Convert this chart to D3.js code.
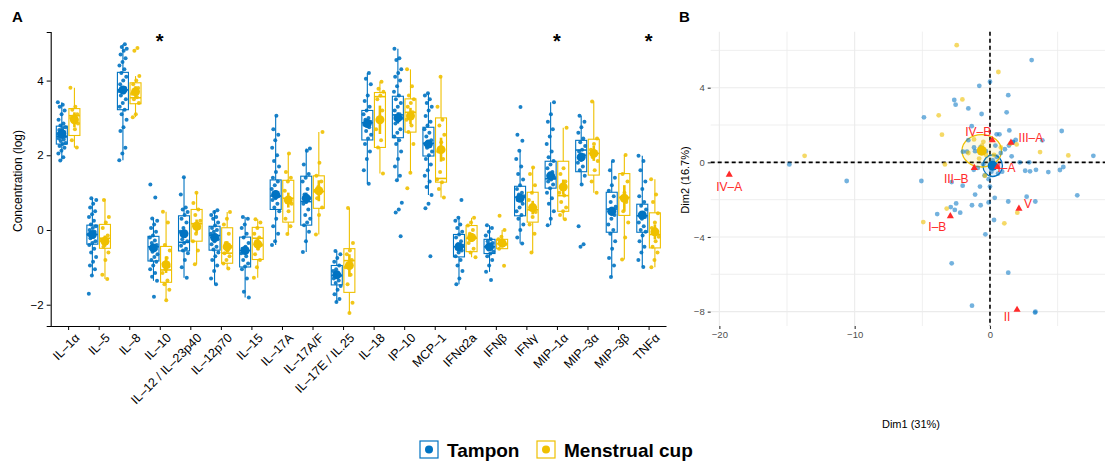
<!DOCTYPE html>
<html>
<head>
<meta charset="utf-8">
<script src="https://cdn.jsdelivr.net/npm/d3@7"></script>
<style>
  body { margin: 0; background: #fff; }
  svg { font-family: "Liberation Sans", Arial, Helvetica, sans-serif; }
</style>
</head>
<body>
<svg id="chart" width="1105" height="464"></svg>
<script>
// ---------- panel A data ----------
const cytokines = ["IL–1α","IL–5","IL–8","IL–10","IL–12 / IL–23p40","IL–12p70","IL–15","IL–17A","IL–17A/F","IL–17E / IL.25","IL–18","IP–10","MCP–1","IFNα2a","IFNβ","IFNγ","MIP–1α","MIP–3α","MIP–3β","TNFα"];
const signifCytokines = ["IL–10","MIP–1α","TNFα"];
const yTicksA = [-2, 0, 2, 4];

const tamponQ1   = [2.30,-0.38,3.22,-0.83,-0.56,-0.54,-0.99,0.55,0.13,-1.47,2.41,2.47,1.98,-0.72,-0.63,0.38,1.12,1.56,-0.06,-0.06];
const tamponMed  = [2.50,-0.12,3.75,-0.45,-0.33,-0.15,-0.55,0.91,0.76,-1.22,2.87,3.08,2.32,-0.45,-0.45,0.88,1.37,2.14,0.56,0.38];
const tamponQ3   = [2.78,0.13,4.22,-0.17,0.38,0.10,-0.19,1.34,1.44,-0.95,3.20,3.58,2.75,-0.12,-0.25,1.17,1.84,2.40,1.01,0.69];
const tamponLo   = [1.86,-1.22,1.87,-1.36,-1.28,-1.45,-1.81,-0.40,-0.59,-1.93,1.24,1.33,0.94,-1.45,-1.12,-0.36,0.13,1.22,-1.26,-0.99];
const tamponHi   = [3.42,0.85,4.97,0.31,1.41,0.53,0.35,3.06,2.18,-0.56,4.20,4.85,3.66,0.33,0.13,2.12,3.42,3.06,1.85,1.99];
const tamponMean = [2.58,-0.12,3.75,-0.48,-0.10,-0.20,-0.55,0.95,0.85,-1.20,2.85,3.00,2.30,-0.45,-0.45,0.85,1.45,1.95,0.50,0.40];
const tamponErr  = [0.08,0.08,0.10,0.08,0.10,0.08,0.10,0.10,0.15,0.07,0.10,0.15,0.10,0.07,0.05,0.10,0.10,0.12,0.12,0.08];

const cupQ1   = [2.53,-0.49,3.38,-1.40,-0.30,-0.89,-0.79,0.21,0.58,-1.67,2.21,2.62,1.28,-0.58,-0.50,0.21,0.50,1.47,0.39,-0.48];
const cupMed  = [3.06,-0.22,3.54,-1.07,0.17,-0.62,-0.22,0.85,1.03,-0.82,3.57,3.15,1.38,-0.22,-0.37,0.54,0.92,2.05,0.87,-0.12];
const cupQ3   = [3.25,0.15,3.94,-0.44,0.55,0.06,0.07,1.33,1.45,-0.50,3.68,3.51,3.00,0.12,-0.25,1.01,1.84,2.43,1.51,0.46];
const cupLo   = [2.21,-1.31,3.02,-1.88,-0.92,-1.03,-1.28,-0.11,-0.12,-2.22,1.51,1.53,0.87,-0.73,-0.50,-0.60,0.29,1.00,-0.79,-1.00];
const cupHi   = [3.81,0.83,4.12,0.49,1.00,0.48,0.29,2.05,2.62,0.59,3.97,4.30,4.10,0.33,0.00,1.67,2.74,3.44,2.01,1.36];
const cupMean = [2.95,-0.30,3.70,-0.93,0.10,-0.45,-0.38,0.80,1.05,-0.95,2.95,3.05,2.15,-0.20,-0.35,0.60,1.15,2.05,0.85,-0.05];
const cupErr  = [0.20,0.15,0.15,0.22,0.18,0.15,0.15,0.20,0.28,0.30,0.38,0.22,0.32,0.12,0.07,0.18,0.20,0.20,0.35,0.20];

const tamponPoints = [
  [3.42,3.35,3.3,3.2,3.1,2.95,2.85,2.8,2.75,2.72,2.68,2.62,2.6,2.57,2.55,2.52,2.5,2.48,2.45,2.42,2.38,2.33,2.3,2.25,2.2,2.12,2.05,1.95,1.86],
  [0.85,0.8,0.7,0.6,0.5,0.42,0.35,0.25,0.15,0.1,0.05,0,-0.05,-0.1,-0.12,-0.18,-0.22,-0.3,-0.35,-0.4,-0.5,-0.6,-0.72,-0.85,-0.95,-1.05,-1.22,-1.71],
  [4.97,4.9,4.85,4.8,4.7,4.6,4.5,4.4,4.3,4.2,4.1,4.0,3.9,3.8,3.75,3.72,3.68,3.6,3.5,3.4,3.3,3.22,3.1,2.95,2.75,2.65,2.2,2.05,1.87],
  [1.22,0.87,0.31,0.25,0.15,0.05,-0.05,-0.15,-0.2,-0.28,-0.35,-0.4,-0.45,-0.48,-0.52,-0.58,-0.65,-0.72,-0.8,-0.85,-0.95,-1.05,-1.15,-1.25,-1.36,-1.79],
  [1.41,0.95,0.6,0.55,0.48,0.4,0.3,0.2,0.05,-0.05,-0.15,-0.25,-0.3,-0.35,-0.42,-0.5,-0.55,-0.62,-0.8,-1.0,-1.28],
  [0.53,0.48,0.4,0.35,0.3,0.2,0.12,0.05,0,-0.05,-0.1,-0.15,-0.2,-0.25,-0.3,-0.38,-0.45,-0.52,-0.6,-0.7,-0.8,-0.95,-1.1,-1.3,-1.45],
  [0.35,0.3,0.15,0.05,-0.1,-0.2,-0.35,-0.45,-0.5,-0.55,-0.58,-0.62,-0.7,-0.8,-0.9,-0.98,-1.05,-1.3,-1.65,-1.81],
  [3.06,2.7,2.55,2.4,2.2,2.0,1.85,1.7,1.55,1.4,1.3,1.2,1.1,1.0,0.95,0.9,0.85,0.8,0.7,0.6,0.5,0.3,0.1,-0.1,-0.3,-0.4],
  [2.18,2.12,1.75,1.5,1.4,1.3,1.1,0.95,0.85,0.76,0.7,0.55,0.4,0.3,0.2,0.13,-0.05,-0.3,-0.59],
  [-0.56,-0.65,-0.75,-0.85,-0.95,-1.05,-1.1,-1.15,-1.2,-1.22,-1.25,-1.3,-1.35,-1.42,-1.5,-1.6,-1.72,-1.85,-1.93],
  [4.2,4.05,3.9,3.6,3.45,3.3,3.2,3.1,3.0,2.95,2.9,2.87,2.82,2.75,2.65,2.55,2.45,2.3,2.1,1.9,1.6,1.24],
  [4.85,4.6,4.55,4.3,4.2,4.1,4.0,3.85,3.7,3.6,3.5,3.4,3.3,3.2,3.1,3.05,3.0,2.95,2.85,2.7,2.6,2.5,2.4,2.3,2.1,1.9,1.7,1.45,1.33,0.73,0.55,0.47,-0.17],
  [3.66,3.6,3.5,3.4,3.3,3.2,3.05,2.9,2.8,2.7,2.6,2.5,2.4,2.35,2.3,2.25,2.2,2.1,2.0,1.9,1.75,1.6,1.45,1.3,1.15,0.94,0.7,0.58,-0.7],
  [0.8,0.33,0.25,0.15,0.05,-0.05,-0.12,-0.2,-0.3,-0.38,-0.42,-0.45,-0.5,-0.55,-0.6,-0.7,-0.8,-0.95,-1.1,-1.3,-1.45],
  [0.13,0.05,-0.05,-0.15,-0.25,-0.3,-0.35,-0.4,-0.45,-0.48,-0.52,-0.58,-0.63,-0.7,-0.8,-0.95,-1.12,-1.34],
  [3.29,2.55,2.39,2.12,1.9,1.7,1.5,1.35,1.2,1.1,1.0,0.95,0.9,0.85,0.8,0.7,0.6,0.5,0.4,0.3,0.15,0.0,-0.2,-0.36],
  [3.42,3.1,2.9,2.7,2.5,2.3,2.1,1.95,1.85,1.75,1.65,1.55,1.45,1.4,1.35,1.3,1.22,1.12,1.0,0.85,0.7,0.5,0.3,0.13],
  [3.06,2.9,2.75,2.6,2.45,2.35,2.25,2.15,2.1,2.0,1.9,1.8,1.7,1.6,1.45,1.22,0.1,-0.38,-0.45],
  [1.85,1.6,1.4,1.2,1.05,0.9,0.75,0.62,0.55,0.5,0.4,0.3,0.15,0.0,-0.1,-0.3,-0.5,-0.75,-0.95,-1.26],
  [1.99,1.85,1.6,1.3,1.1,0.9,0.75,0.65,0.55,0.45,0.4,0.35,0.3,0.2,0.1,0.0,-0.05,-0.15,-0.3,-0.45,-0.6,-0.8,-0.99]
];
const cupPoints = [
  [3.81,3.3,3.22,3.1,3.05,3.0,2.97,2.92,2.85,2.7,2.4,2.21],
  [0.8,0.35,0.2,0.05,-0.15,-0.22,-0.28,-0.35,-0.45,-0.6,-0.8,-1.2,-1.31],
  [4.87,4.8,4.12,4.0,3.9,3.8,3.72,3.65,3.55,3.5,3.4,3.1,3.02],
  [0.49,0.2,-0.4,-0.55,-0.75,-0.9,-0.98,-1.05,-1.15,-1.35,-1.45,-1.6,-1.88],
  [1.0,0.72,0.55,0.4,0.25,0.18,0.12,0.05,-0.1,-0.3,-0.55,-0.92],
  [0.48,0.3,0.15,-0.1,-0.35,-0.45,-0.55,-0.62,-0.7,-0.8,-0.9,-1.03],
  [0.29,0.2,0.05,-0.1,-0.2,-0.3,-0.4,-0.5,-0.65,-0.8,-1.0,-1.28],
  [2.05,1.55,1.4,1.3,1.05,0.85,0.8,0.7,0.5,0.3,0.1,-0.11],
  [2.62,1.8,1.45,1.3,1.15,1.05,1.0,0.85,0.6,0.4,-0.12],
  [0.59,-0.35,-0.55,-0.65,-0.8,-0.9,-1.0,-1.2,-1.45,-1.95,-2.22],
  [3.97,3.78,3.7,3.6,3.5,3.2,2.95,2.7,2.4,2.21,1.51],
  [4.3,3.85,3.6,3.5,3.4,3.3,3.15,3.05,2.95,2.8,2.62,2.3,1.53,1.12],
  [4.1,3.3,2.95,2.8,2.55,2.35,2.1,1.9,1.55,1.35,1.28,1.1,0.87],
  [0.33,0.2,0.12,0.0,-0.1,-0.2,-0.25,-0.35,-0.5,-0.6,-0.73],
  [0.38,0.0,-0.18,-0.25,-0.3,-0.35,-0.38,-0.42,-0.5,-0.96],
  [1.67,1.5,1.2,1.0,0.8,0.65,0.55,0.48,0.35,0.15,-0.1,-0.6],
  [2.74,1.65,1.5,1.3,1.15,1.0,0.92,0.75,0.6,0.5,0.4,0.29],
  [3.44,2.45,2.3,2.15,2.05,1.95,1.85,1.6,1.3,1.0],
  [2.01,1.5,1.3,1.0,0.87,0.75,0.5,0.2,-0.2,-0.79],
  [1.36,0.95,0.75,0.45,0.2,0.05,-0.05,-0.1,-0.18,-0.3,-0.45,-0.6,-0.8,-1.0]
];

// ---------- panel B data ----------
const pcaTamponX = [3.08,-0.79,0,1.35,-2.64,-2.54,-1.6,1.23,-0.62,-4.88,-1.35,1.43,5.3,0.49,3.87,-1.6,1.68,-1.18,-1.7,-2.0,1.6,7.64,2.9,-14.83,5.42,5.17,2.6,2.96,3.4,4.31,-10.59,-5.07,-2.83,-2.02,-0.74,0,6.45,-1.1,2.71,-0.1,1.35,3.35,-1.33,-0.69,-2.5,-2.9,-2.6,-2.2,-3.9,0.3,-0.34,-2.83,1.35,-1.33,3.33,3.36,
  -1.2,-0.9,-0.5,0.2,0.5,0.8,1.1,1.4,1.7,0.3,0.6,0.9,0.1,-0.3,-0.7,-1.1,0.4,0.7,-0.1,0.35,1.9,2.2,-0.4,0.15];
const pcaTamponY = [5.48,4.1,4.32,3.6,3.34,3.09,2.89,2.68,2.59,2.41,1.94,1.71,1.68,1.5,1.18,1.19,1.07,0.8,0.57,0.57,0.32,0.35,0,-0.11,-0.25,-0.41,-0.45,-0.48,-0.4,-0.52,-1.0,-1.0,-1.06,-1.25,-1.3,-1.3,-1.77,-1.73,-1.84,-2.15,-2.1,-2.1,-2.3,-2.3,-2.2,-2.4,-2.55,-2.7,-2.77,-3.09,-3.86,-5.41,-5.91,-7.68,-8.05,-8.0,
  -0.4,-0.3,-0.1,0.1,0.3,0.5,0.7,0.9,1.1,-0.3,-0.6,-0.5,-0.5,0.6,0.8,0.6,0.9,1.5,-0.9,-1.9,1.2,0.0,-0.7,-0.2];
const pcaCupX = [-2.46,0.62,-2.04,-3.79,-3.55,-1.18,-0.49,1.97,1.5,3.7,5.79,-13.7,-3.33,-0.37,-3.2,2.02,-4.93,1.06,-0.3,-0.8,0.3,-1.6,-0.6,0.8];
const pcaCupY = [6.28,4.84,3.37,2.52,1.48,1.23,1.1,0.96,1.0,0.55,0.37,0.35,-0.11,-0.72,-2.48,-2.7,-3.2,-3.27,0.4,0.2,0.4,0.5,0.9,0.8];
const groupMeanX = [0.2, -0.61];
const groupMeanY = [-0.18, 0.62];
const ellipseRx = [0.72, 1.46];
const ellipseRy = [0.58, 0.87];
const supLabels = ["IV–A","IV–B","III–A","I–A","III–B","I–B","V","II"];
const supX = [-19.27, 0.17, 1.55, 0.55, -1.16, -2.93, 2.14, 2.0];
const supY = [-0.66, 1.19, 1.05, -0.25, -0.3, -2.88, -2.48, -7.9];
const xTicksB = [-20, -10, 0];
const yTicksB = [-8, -4, 0, 4];
const xGridB = [-20, -15, -10, -5, 0, 5];
const yGridB = [-8, -6, -4, -2, 0, 2, 4, 6];

const groups = ["Tampon", "Menstrual cup"];
const colors = ["#0073C2", "#EFC000"];

const svg = d3.select("#chart");

// ================= Panel A =================
const xA = d3.scalePoint().domain(cytokines).range([50.7, 666]).padding(0.57);
const yA = d3.scaleLinear().domain([-2.57, 5.30]).range([326, 32]);
const dodge = 6.3, boxW = 11;

const gA = svg.append("g");

gA.append("g")
  .attr("transform", "translate(50.7,0)")
  .call(d3.axisLeft(yA).tickValues(yTicksA).tickSize(4).tickFormat(d => d < 0 ? "−" + Math.abs(d) : d))
  .call(g => g.select(".domain").attr("stroke", "#000").attr("stroke-width", 1.1))
  .call(g => g.selectAll(".tick line").attr("stroke", "#000"))
  .call(g => g.selectAll(".tick text").attr("font-size", 11.5).attr("fill", "#000").attr("font-family", null));

const xAxisA = gA.append("g")
  .attr("transform", "translate(0,326)")
  .call(d3.axisBottom(xA).tickSize(4).tickSizeOuter(0))
  .call(g => g.select(".domain").attr("stroke", "#000").attr("stroke-width", 1.1))
  .call(g => g.selectAll(".tick line").attr("stroke", "#000"));
xAxisA.selectAll(".tick text")
  .attr("font-size", 12.5).attr("fill", "#000").attr("font-family", null)
  .attr("text-anchor", "end")
  .attr("transform", "translate(5,6) rotate(-45)")
  .attr("dy", "0.75em").attr("y", 0).attr("x", 0);

function drawGroup(gi, q1, med, q3, lo, hi, mean, err, pts) {
  const col = colors[gi];
  const off = gi === 0 ? -dodge : dodge;
  const g = gA.append("g");
  cytokines.forEach((c, i) => {
    const cx = xA(c) + off;
    g.append("line").attr("x1", cx).attr("x2", cx).attr("y1", yA(lo[i])).attr("y2", yA(q1[i]))
      .attr("stroke", col).attr("stroke-width", 1.1);
    g.append("line").attr("x1", cx).attr("x2", cx).attr("y1", yA(q3[i])).attr("y2", yA(hi[i]))
      .attr("stroke", col).attr("stroke-width", 1.1);
    g.append("rect").attr("x", cx - boxW / 2).attr("width", boxW)
      .attr("y", yA(q3[i])).attr("height", yA(q1[i]) - yA(q3[i]))
      .attr("fill", "none").attr("stroke", col).attr("stroke-width", 1.1);
    g.append("line").attr("x1", cx - boxW / 2).attr("x2", cx + boxW / 2)
      .attr("y1", yA(med[i])).attr("y2", yA(med[i])).attr("stroke", col).attr("stroke-width", 1.6);
  });
  cytokines.forEach((c, i) => {
    const cx = xA(c) + off;
    // jitter offsets (position only)
    g.selectAll(null).data(pts[i]).enter().append("circle")
      .attr("cx", (d, j) => cx + (((j * 0.618034 + i * 0.37) % 1) - 0.5) * 8)
      .attr("cy", d => yA(d)).attr("r", 2).attr("fill", col).attr("fill-opacity", 0.9);
  });
  cytokines.forEach((c, i) => {
    const cx = xA(c) + off;
    g.append("line").attr("x1", cx).attr("x2", cx)
      .attr("y1", yA(mean[i] - err[i])).attr("y2", yA(mean[i] + err[i]))
      .attr("stroke", col).attr("stroke-width", 2.6);
    g.append("circle").attr("cx", cx).attr("cy", yA(mean[i])).attr("r", 4.5).attr("fill", col);
  });
}
drawGroup(0, tamponQ1, tamponMed, tamponQ3, tamponLo, tamponHi, tamponMean, tamponErr, tamponPoints);
drawGroup(1, cupQ1, cupMed, cupQ3, cupLo, cupHi, cupMean, cupErr, cupPoints);

gA.selectAll(".star").data(signifCytokines).enter().append("text")
  .attr("x", d => xA(d)).attr("y", 48).attr("text-anchor", "middle")
  .attr("font-size", 20).attr("font-weight", "bold").text("*");

gA.append("text").attr("transform", "translate(22,181) rotate(-90)")
  .attr("text-anchor", "middle").attr("font-size", 12).text("Concentration (log)");

svg.append("text").attr("x", 12).attr("y", 22).attr("font-size", 15).attr("font-weight", "bold").text("A");
svg.append("text").attr("x", 679).attr("y", 22).attr("font-size", 15).attr("font-weight", "bold").text("B");

// ================= Panel B =================
const xB = d3.scaleLinear().domain([-20.64, 8.5]).range([710.7, 1105]);
const yB = d3.scaleLinear().domain([-8.77, 7.0]).range([326, 31.7]);
const gB = svg.append("g");

gB.selectAll(".vg").data(xGridB).enter().append("line")
  .attr("x1", d => xB(d)).attr("x2", d => xB(d)).attr("y1", yB(7.0)).attr("y2", yB(-8.77))
  .attr("stroke", "#ebebeb").attr("stroke-width", d => xTicksB.includes(d) ? 1.1 : 0.8);
gB.selectAll(".hg").data(yGridB).enter().append("line")
  .attr("x1", xB(-20.64)).attr("x2", xB(8.5)).attr("y1", d => yB(d)).attr("y2", d => yB(d))
  .attr("stroke", "#ebebeb").attr("stroke-width", d => yTicksB.includes(d) ? 1.1 : 0.8);

gB.append("g").attr("transform", "translate(710.7,0)")
  .call(d3.axisLeft(yB).tickValues(yTicksB).tickSize(3).tickPadding(3).tickFormat(d => d < 0 ? "−" + Math.abs(d) : d))
  .call(g => g.select(".domain").remove())
  .call(g => g.selectAll(".tick line").attr("stroke", "#333").attr("stroke-width", 1.1))
  .call(g => g.selectAll(".tick text").attr("font-size", 9.5).attr("fill", "#4d4d4d").attr("font-family", null));
gB.append("g").attr("transform", "translate(0,326)")
  .call(d3.axisBottom(xB).tickValues(xTicksB).tickSize(3).tickPadding(2).tickFormat(d => d < 0 ? "−" + Math.abs(d) : d))
  .call(g => g.select(".domain").remove())
  .call(g => g.selectAll(".tick line").attr("stroke", "#333").attr("stroke-width", 1.1))
  .call(g => g.selectAll(".tick text").attr("font-size", 9.5).attr("fill", "#4d4d4d").attr("font-family", null));

// dashed reference lines
gB.append("line").attr("x1", xB(0)).attr("x2", xB(0)).attr("y1", yB(7.0)).attr("y2", yB(-8.77))
  .attr("stroke", "#000").attr("stroke-width", 1.6).attr("stroke-dasharray", "4,3");
gB.append("line").attr("x1", xB(-20.64)).attr("x2", xB(8.5)).attr("y1", yB(0)).attr("y2", yB(0))
  .attr("stroke", "#000").attr("stroke-width", 1.6).attr("stroke-dasharray", "4,3");

// ellipses
[0, 1].forEach(gi => {
  gB.append("ellipse")
    .attr("cx", xB(groupMeanX[gi])).attr("cy", yB(groupMeanY[gi]))
    .attr("rx", xB(groupMeanX[gi] + ellipseRx[gi]) - xB(groupMeanX[gi]))
    .attr("ry", yB(groupMeanY[gi]) - yB(groupMeanY[gi] + ellipseRy[gi]))
    .attr("fill", colors[gi]).attr("fill-opacity", 0.1)
    .attr("stroke", colors[gi]).attr("stroke-width", 1.3);
});

gB.selectAll(".pt").data(pcaTamponX).enter().append("circle")
  .attr("cx", d => xB(d)).attr("cy", (d, i) => yB(pcaTamponY[i])).attr("r", 2.4)
  .attr("fill", colors[0]).attr("fill-opacity", 0.55);
gB.selectAll(".pc").data(pcaCupX).enter().append("circle")
  .attr("cx", d => xB(d)).attr("cy", (d, i) => yB(pcaCupY[i])).attr("r", 2.4)
  .attr("fill", colors[1]).attr("fill-opacity", 0.6);

[0, 1].forEach(gi => {
  gB.append("circle").attr("cx", xB(groupMeanX[gi])).attr("cy", yB(groupMeanY[gi])).attr("r", 5)
    .attr("fill", colors[gi]);
});

// supplementary (red triangles + labels)
const tri = d3.symbol().type(d3.symbolTriangle).size(22);
gB.selectAll(".tri").data(supLabels).enter().append("path")
  .attr("d", tri).attr("transform", (d, i) => `translate(${xB(supX[i])},${yB(supY[i])})`)
  .attr("fill", "#FF2A2A");
const labelDx = [0, -14, 20, 9, -18, -13, 9, -10];
const labelDy = [12, -8, -5, 1, 11, 11, -5, 7];
gB.selectAll(".lab").data(supLabels).enter().append("text")
  .attr("x", (d, i) => xB(supX[i]) + labelDx[i]).attr("y", (d, i) => yB(supY[i]) + labelDy[i])
  .attr("dy", "0.35em").attr("text-anchor", "middle")
  .attr("font-size", 12).attr("fill", "#FF2A2A").text(d => d);

gB.append("text").attr("transform", "translate(689,180) rotate(-90)")
  .attr("text-anchor", "middle").attr("font-size", 11).text("Dim2 (16.7%)");
gB.append("text").attr("x", 911).attr("y", 428)
  .attr("text-anchor", "middle").attr("font-size", 11).text("Dim1 (31%)");

// ================= Legend =================
const legX = [420, 537];
const leg = svg.append("g");
groups.forEach((name, gi) => {
  leg.append("rect").attr("x", legX[gi]).attr("y", 441).attr("width", 18).attr("height", 17)
    .attr("fill", "#fff").attr("stroke", colors[gi]).attr("stroke-width", 1.2);
  leg.append("circle").attr("cx", legX[gi] + 9).attr("cy", 449.5).attr("r", 4).attr("fill", colors[gi]);
  leg.append("text").attr("x", legX[gi] + 27).attr("y", 457).attr("font-size", 19)
    .attr("font-weight", "bold").text(name);
});
</script>
</body>
</html>
